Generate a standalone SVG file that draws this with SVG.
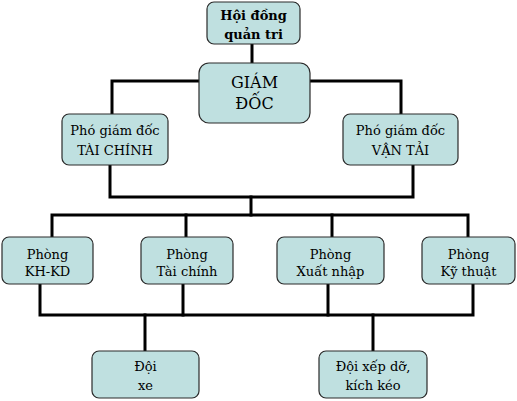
<svg xmlns="http://www.w3.org/2000/svg" width="517" height="401" viewBox="0 0 517 401">
<style>
.box{fill:#bfe0e0;stroke:#2a2a2a;stroke-width:1.2}
text{font-family:'DejaVu Serif',serif;font-size:13px;fill:#000;text-anchor:middle}
.b{font-weight:bold;font-size:13px}
.g{font-size:16px}
.ln{fill:none;stroke:#000;stroke-width:3;stroke-linecap:square}
</style>
<rect width="517" height="401" fill="#fff"/>
<g id="connectors">
<path class="ln" d="M252 44V63"/>
<path class="ln" d="M199 81H112V114"/>
<path class="ln" d="M310 81H401V114"/>
<path class="ln" d="M110 165V197H413V165"/>
<path class="ln" d="M251 197V215"/>
<path class="ln" d="M52 237V215H468V237"/>
<path class="ln" d="M186 215V237"/>
<path class="ln" d="M332 215V237"/>
<path class="ln" d="M40 284V315H473V284"/>
<path class="ln" d="M183 284V315"/>
<path class="ln" d="M328 284V315"/>
<path class="ln" d="M145 315V351"/>
<path class="ln" d="M373 315V351"/>
</g>
<g id="hoi-dong-quan-tri">
<rect class="box" x="207" y="2" width="93" height="42" rx="7"/>
<text class="b" x="253.5" y="20">Hội đồng</text>
<text class="b" x="253.5" y="39">quản tri</text>
</g>
<g id="giam-doc">
<rect class="box" x="199" y="63" width="111" height="60" rx="10"/>
<text class="g" x="254.5" y="88">GIÁM</text>
<text class="g" x="254.5" y="109">ĐỐC</text>
</g>
<g id="pgd-tai-chinh">
<rect class="box" x="62" y="114" width="106" height="51" rx="7"/>
<text x="115" y="135">Phó giám đốc</text>
<text x="115" y="155">TÀI CHÍNH</text>
</g>
<g id="pgd-van-tai">
<rect class="box" x="343" y="114" width="115" height="51" rx="7"/>
<text x="400.5" y="135">Phó giám đốc</text>
<text x="400.5" y="155">VẬN TẢI</text>
</g>
<g id="phong-kh-kd">
<rect class="box" x="2" y="237" width="91" height="47" rx="7"/>
<text x="47.5" y="259">Phòng</text>
<text x="47.5" y="276">KH-KD</text>
</g>
<g id="phong-tai-chinh">
<rect class="box" x="141" y="237" width="92" height="47" rx="7"/>
<text x="187" y="259">Phòng</text>
<text x="187" y="276">Tài  chính</text>
</g>
<g id="phong-xuat-nhap">
<rect class="box" x="277" y="237" width="107" height="47" rx="7"/>
<text x="330.5" y="259">Phòng</text>
<text x="330.5" y="276">Xuất nhập</text>
</g>
<g id="phong-ky-thuat">
<rect class="box" x="422" y="237" width="93" height="47" rx="7"/>
<text x="468.5" y="259">Phòng</text>
<text x="468.5" y="276">Kỹ thuật</text>
</g>
<g id="doi-xe">
<rect class="box" x="92" y="351" width="107" height="47" rx="7"/>
<text x="145.5" y="371">Đội</text>
<text x="145.5" y="390">xe</text>
</g>
<g id="doi-xep-do">
<rect class="box" x="319" y="351" width="108" height="47" rx="7"/>
<text x="373" y="371">Đội xếp dỡ,</text>
<text x="373" y="390">kích kéo</text>
</g>
</svg>
